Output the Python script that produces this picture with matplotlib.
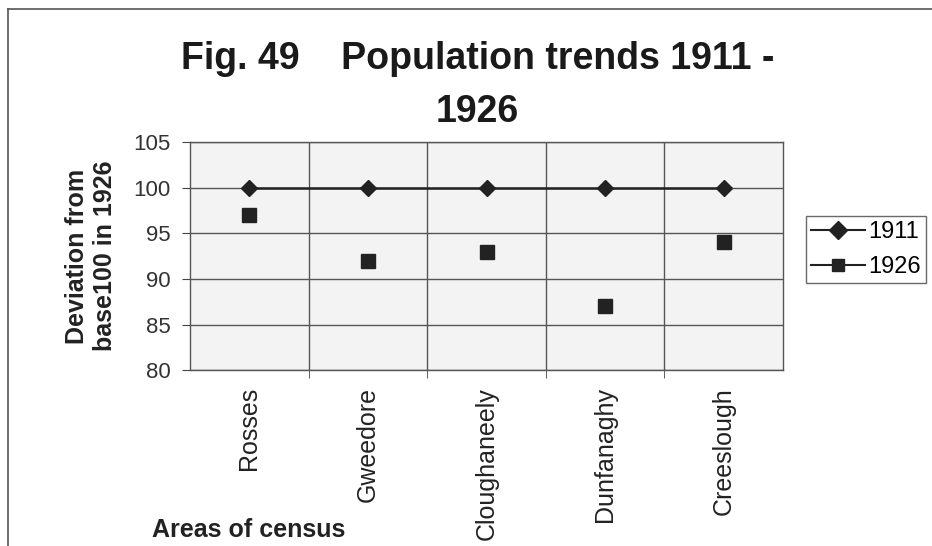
import matplotlib
matplotlib.use("Agg")
import matplotlib.pyplot as plt
from matplotlib.lines import Line2D

# census areas and population index (1926 = base 100)
areas = ["Rosses", "Gweedore", "Cloughaneely", "Dunfanaghy", "Creeslough"]
pop_1911 = [100, 100, 100, 100, 100]
pop_1926 = [97, 92, 93, 87, 94]
yticks = [80, 85, 90, 95, 100, 105]

plt.rcParams['font.family'] = ['Liberation Sans', 'DejaVu Sans']

fig = plt.figure(figsize=(9.32, 5.46), dpi=100)
ax = fig.add_axes([0.204, 0.322, 0.636, 0.418])
ax.set_facecolor("#f3f3f3")

x = list(range(len(areas)))
ax.plot(x, pop_1911, color="#222222", lw=1.8, marker="D", ms=8.5, zorder=3)
ax.plot(x, pop_1926, color="#222222", lw=0, marker="s", ms=10.5, zorder=3)

ax.set_xlim(-0.5, len(areas) - 0.5)
ax.set_ylim(80, 105)
ax.set_yticks(yticks)
ax.set_yticklabels([str(v) for v in yticks], fontsize=16, color="#333333")
ax.set_xticks(x)
ax.set_xticklabels(areas, rotation=90, fontsize=18, color="#222222")
ax.set_xticks([i + 0.5 for i in range(len(areas) - 1)], minor=True)
ax.tick_params(axis="x", which="major", length=0, pad=12)
ax.tick_params(axis="x", which="minor", length=6, color="#444444")
ax.tick_params(axis="y", length=6, color="#444444", pad=8)

ax.grid(axis="y", color="#555555", lw=1)
ax.grid(axis="x", which="minor", color="#555555", lw=1)
for s in ax.spines.values():
    s.set_color("#555555")
    s.set_linewidth(1)

ax.set_ylabel("Deviation from\nbase100 in 1926", fontsize=18, fontweight="bold",
              color="#222222", labelpad=12, linespacing=1.2)

fig.text(0.513, 0.874, "Fig. 49    Population trends 1911 -", ha="center", va="baseline",
         fontsize=27, fontweight="bold", color="#1a1a1a")
fig.text(0.512, 0.777, "1926", ha="center", va="baseline", fontsize=27,
         fontweight="bold", color="#1a1a1a")
fig.text(0.163, 0.016, "Areas of census", va="baseline", fontsize=18,
         fontweight="bold", color="#222222")

handles = [Line2D([], [], color="#222222", lw=1.5, marker="D", ms=9),
           Line2D([], [], color="#222222", lw=1.5, marker="s", ms=9)]
leg = fig.legend(handles, ["1911", "1926"], loc="upper left",
                 bbox_to_anchor=(0.865, 0.604), fontsize=17, frameon=True,
                 fancybox=False, edgecolor="#444444", handlelength=2.3,
                 handletextpad=0.15, borderpad=0.2, labelspacing=0.55,
                 borderaxespad=0)
leg.get_frame().set_linewidth(1)

# chart border (only top and left show in the scan)
fig.add_artist(Line2D([0.009, 1.0], [0.983, 0.983], color="#555555", lw=1.2))
fig.add_artist(Line2D([0.009, 0.009], [0.0, 0.983], color="#555555", lw=1.2))

fig.savefig("out.png", dpi=100)
